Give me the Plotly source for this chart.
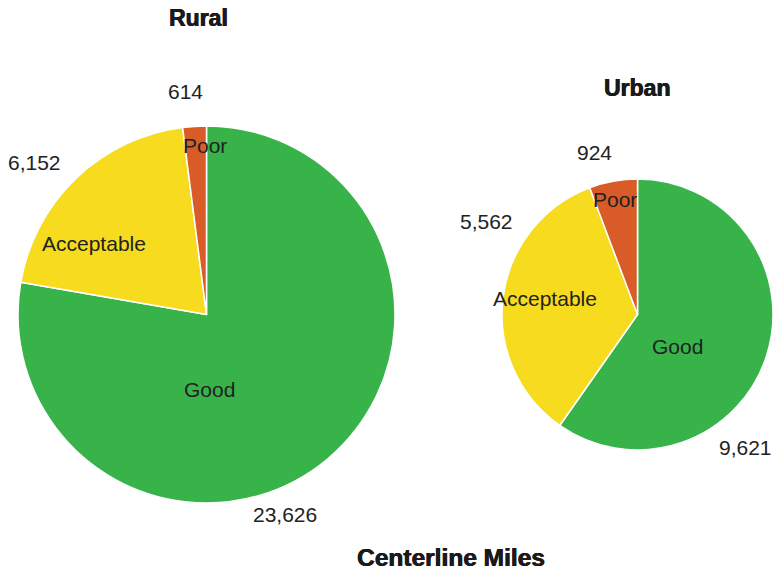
import plotly.graph_objects as go

categories = ["Good", "Acceptable", "Poor"]
rural_values = [23626, 6152, 614]
urban_values = [9621, 5562, 924]
colors = ["#37B34A", "#F6DB1E", "#D95B27"]
titles = ["Rural", "Urban", "Centerline Miles"]

W, H = 773, 577
FONT = "Liberation Sans, Arial, sans-serif"
TXT = "#222222"

def dom_x(x0, x1):
    return [x0 / W, min(x1 / W, 1.0)]

def dom_y(top, bottom):
    return [(H - bottom) / H, (H - top) / H]

# layout: pixel centres of the data labels (category name inside, value outside), per category
rural_name_pos = [(209, 389), (94, 243), (205, 145)]
rural_value_pos = [(285, 514), (34, 162), (185, 92)]
urban_name_pos = [(677, 346), (545, 298), (615, 199)]
urban_value_pos = [(745, 447), (487, 222), (594, 152)]

pies = [
    (rural_values, dom_x(18, 395), dom_y(126, 503), rural_name_pos, rural_value_pos),
    (urban_values, dom_x(502, 773), dom_y(178, 451), urban_name_pos, urban_value_pos),
]

fig = go.Figure()
label_font = dict(family=FONT, size=21, color=TXT)

def add_label(text, px, py):
    fig.add_annotation(text=text, x=px / W, y=1 - py / H, xref="paper", yref="paper",
                       showarrow=False, font=label_font, xanchor="center", yanchor="middle")

for vals, dx, dy, npos, vpos in pies:
    fig.add_trace(go.Pie(
        labels=categories, values=vals, sort=False, direction="clockwise", rotation=0,
        domain=dict(x=dx, y=dy),
        marker=dict(colors=colors, line=dict(color="white", width=1.5)),
        textinfo="none", hoverinfo="label+value", showlegend=False, automargin=False,
    ))
    for cat, v, (nx, ny), (vx, vy) in zip(categories, vals, npos, vpos):
        add_label(cat, nx, ny)
        add_label(f"{v:,}", vx, vy)

title_font = dict(family="Liberation Sans, Arial, sans-serif", size=23, color="#1a1a1a",
                  shadow="0.5px 0 0 #1a1a1a, -0.3px 0 0 #1a1a1a")
fig.add_annotation(text="<b>%s</b>" % titles[0], x=198 / W, y=1 - 18 / H, xref="paper", yref="paper",
                   showarrow=False, font=title_font, xanchor="center", yanchor="middle")
fig.add_annotation(text="<b>%s</b>" % titles[1], x=637 / W, y=1 - 88 / H, xref="paper", yref="paper",
                   showarrow=False, font=title_font, xanchor="center", yanchor="middle")
fig.add_annotation(text="<b>%s</b>" % titles[2], x=451 / W, y=1 - 557 / H, xref="paper", yref="paper",
                   showarrow=False, font=dict(title_font, size=24.5), xanchor="center", yanchor="middle")

fig.update_layout(
    width=W, height=H, margin=dict(l=0, r=0, t=0, b=0, autoexpand=False),
    showlegend=False,
    paper_bgcolor="white", plot_bgcolor="white",
)
fig.write_html("out.html")
